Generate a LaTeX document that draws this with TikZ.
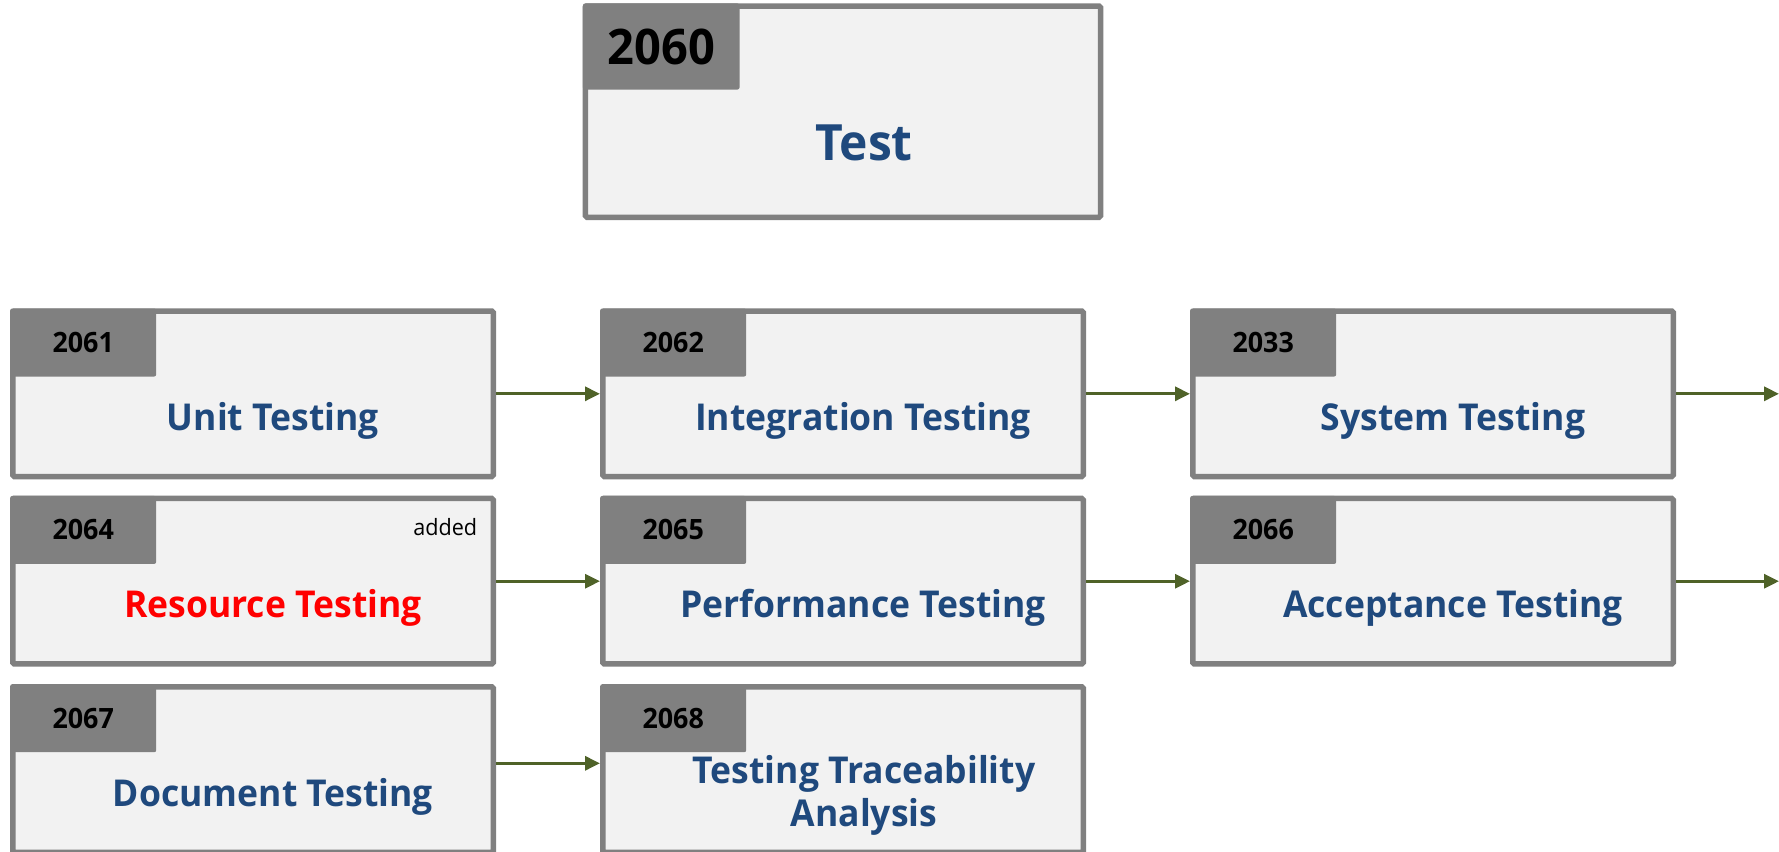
\documentclass[tikz,border=0pt]{standalone}
\usepackage{fontspec}
\setmainfont{Open Sans}[FakeStretch=0.96]
\usetikzlibrary{arrows.meta}
\definecolor{framegray}{HTML}{808080}
\definecolor{cardfill}{HTML}{F2F2F2}
\definecolor{titleblue}{HTML}{1F497D}
\definecolor{flowgreen}{HTML}{4F6228}
\definecolor{alertred}{HTML}{FF0000}
\begin{document}
\begin{tikzpicture}[x=1pt,y=-1pt,
  card/.style={draw=framegray, fill=cardfill, line width=5.5pt, rounded corners=1.5pt,
    inner sep=0pt, minimum width=480.5pt, minimum height=165.5pt},
  tab/.style={fill=framegray, rounded corners=2pt, inner sep=0pt, anchor=north west,
    minimum width=146pt, minimum height=68pt, text=black,
    font=\fontsize{28}{30}\selectfont\bfseries},
  title/.style={anchor=base, text=titleblue, font=\fontsize{37}{43.4}\selectfont\bfseries},
  flow/.style={draw=flowgreen, line width=3pt, -{Triangle[length=15pt,width=14pt]}}]
\useasboundingbox (0,0) rectangle (1779,851);

% top-level work package
\node[card, minimum width=515.1pt, minimum height=211.2pt] (t0) at (843,111.65) {};
\node[tab, minimum width=156.6pt, minimum height=86pt,
  font=\fontsize{49}{52}\selectfont\bfseries] (t0n) at (582.7,3.3) {2060};
\node[title, font=\fontsize{50}{55}\selectfont\bfseries] (t0t) at (864,160) {Test};

% row 1
\node[card] (b1) at (253,393.8) {};
\node[card] (b2) at (843,393.8) {};
\node[card] (b3) at (1433,393.8) {};
% row 2
\node[card] (b4) at (253,581.2) {};
\node[card] (b5) at (843,581.2) {};
\node[card] (b6) at (1433,581.2) {};
% row 3
\node[card] (b7) at (253,769.5) {};
\node[card] (b8) at (843,769.5) {};

% number tabs
\node[tab] (n1) at (10,308.3) {2061};
\node[tab] (n2) at (600,308.3) {2062};
\node[tab] (n3) at (1190,308.3) {2033};
\node[tab] (n4) at (10,495.7) {2064};
\node[tab] (n5) at (600,495.7) {2065};
\node[tab] (n6) at (1190,495.7) {2066};
\node[tab] (n7) at (10,684) {2067};
\node[tab] (n8) at (600,684) {2068};

% titles
\node[title] (l1) at (273,430.3) {Unit Testing};
\node[title] (l2) at (863,430.3) {Integration Testing};
\node[title] (l3) at (1453,430.3) {System Testing};
\node[title, text=alertred] (l4) at (273,617.7) {Resource Testing};
\node[title] (l5) at (863,617.7) {Performance Testing};
\node[title] (l6) at (1453,617.7) {Acceptance Testing};
\node[title] (l7) at (273,806) {Document Testing};
\node[title, inner sep=0pt] (l8) at (864,783.3)
  {\parbox[t]{440pt}{\centering Testing Traceability\\Analysis}};

\node[anchor=base east, inner sep=0pt, font=\fontsize{22.5}{24}\selectfont] (note4)
  at (477.3,535.7) {added};

% flow connectors
\coordinate (edge) at (1779,0);
\coordinate (r3) at (0,763.3);
\draw[flow] (b1.east) -- (b2.west);
\draw[flow] (b2.east) -- (b3.west);
\draw[flow] (b3.east) -- (b3.east -| edge);
\draw[flow] (b4.east) -- (b5.west);
\draw[flow] (b5.east) -- (b6.west);
\draw[flow] (b6.east) -- (b6.east -| edge);
\draw[flow] (b7.east |- r3) -- (b8.west |- r3);
\end{tikzpicture}
\end{document}
